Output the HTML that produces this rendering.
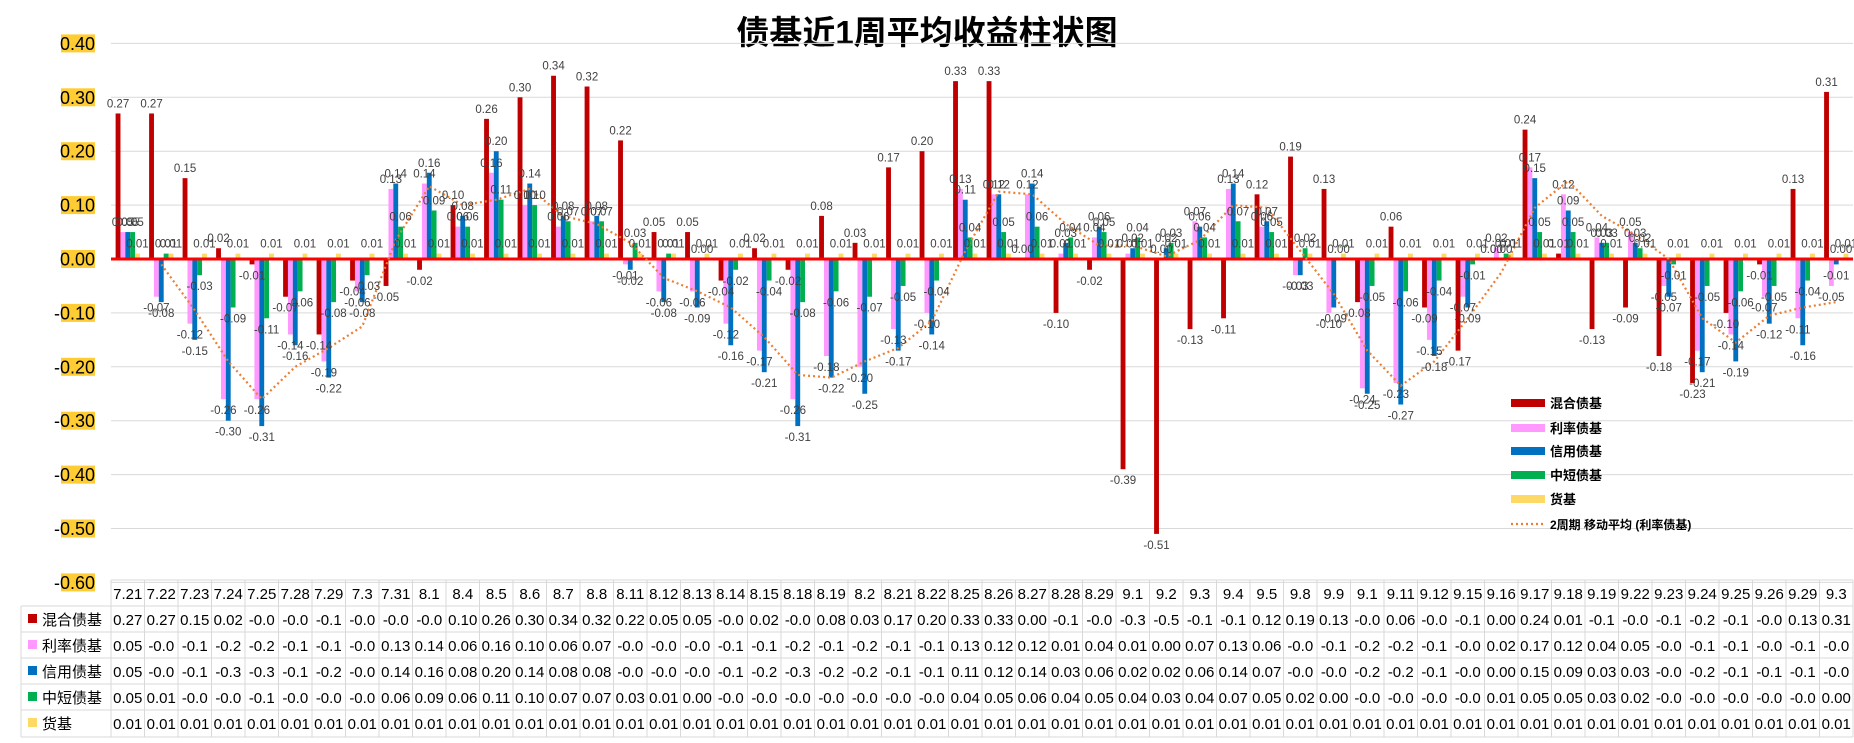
<!DOCTYPE html>
<html><head><meta charset="utf-8">
<style>
html,body{margin:0;padding:0;background:#fff;}
#wrap{position:relative;width:1854px;height:743px;overflow:hidden;font-family:"Liberation Sans","Noto Sans CJK SC",sans-serif;}
svg text{font-family:"Liberation Sans","Noto Sans CJK SC",sans-serif;}
</style></head>
<body>
<div id="wrap">
<svg id="chart" width="1854" height="743">
<text x="927" y="44" text-anchor="middle" font-size="33" font-weight="bold" fill="#000">债基近1周平均收益柱状图</text>
</svg>
</div>
<script>
const categories=["7.21","7.22","7.23","7.24","7.25","7.28","7.29","7.3","7.31","8.1","8.4","8.5","8.6","8.7","8.8","8.11","8.12","8.13","8.14","8.15","8.18","8.19","8.2","8.21","8.22","8.25","8.26","8.27","8.28","8.29","9.1","9.2","9.3","9.4","9.5","9.8","9.9","9.1","9.11","9.12","9.15","9.16","9.17","9.18","9.19","9.22","9.23","9.24","9.25","9.26","9.29","9.3"];
const seriesNames=["混合债基","利率债基","信用债基","中短债基","货基"];
const mixed=[0.27,0.27,0.15,0.02,-0.01,-0.07,-0.14,-0.04,-0.05,-0.02,0.10,0.26,0.30,0.34,0.32,0.22,0.05,0.05,-0.04,0.02,-0.02,0.08,0.03,0.17,0.20,0.33,0.33,0.00,-0.10,-0.02,-0.39,-0.51,-0.13,-0.11,0.12,0.19,0.13,-0.08,0.06,-0.09,-0.17,0.00,0.24,0.01,-0.13,-0.09,-0.18,-0.23,-0.10,-0.01,0.13,0.31];
const rate=[0.05,-0.07,-0.12,-0.26,-0.26,-0.14,-0.19,-0.06,0.13,0.14,0.06,0.16,0.10,0.06,0.07,-0.01,-0.06,-0.06,-0.12,-0.17,-0.26,-0.18,-0.20,-0.13,-0.10,0.13,0.12,0.12,0.01,0.04,0.01,0.00,0.07,0.13,0.06,-0.03,-0.10,-0.24,-0.23,-0.15,-0.07,0.02,0.17,0.12,0.04,0.05,-0.05,-0.17,-0.14,-0.07,-0.11,-0.05];
const credit=[0.05,-0.08,-0.15,-0.30,-0.31,-0.16,-0.22,-0.08,0.14,0.16,0.08,0.20,0.14,0.08,0.08,-0.02,-0.08,-0.09,-0.16,-0.21,-0.31,-0.22,-0.25,-0.17,-0.14,0.11,0.12,0.14,0.03,0.06,0.02,0.02,0.06,0.14,0.07,-0.03,-0.09,-0.25,-0.27,-0.18,-0.09,0.00,0.15,0.09,0.03,0.03,-0.07,-0.21,-0.19,-0.12,-0.16,-0.01];
const shortTerm=[0.05,0.01,-0.03,-0.09,-0.11,-0.06,-0.08,-0.03,0.06,0.09,0.06,0.11,0.10,0.07,0.07,0.03,0.01,0.00,-0.02,-0.04,-0.08,-0.06,-0.07,-0.05,-0.04,0.04,0.05,0.06,0.04,0.05,0.04,0.03,0.04,0.07,0.05,0.02,0.00,-0.05,-0.06,-0.04,-0.01,0.01,0.05,0.05,0.03,0.02,-0.01,-0.05,-0.06,-0.05,-0.04,0.00];
const money=[0.01,0.01,0.01,0.01,0.01,0.01,0.01,0.01,0.01,0.01,0.01,0.01,0.01,0.01,0.01,0.01,0.01,0.01,0.01,0.01,0.01,0.01,0.01,0.01,0.01,0.01,0.01,0.01,0.01,0.01,0.01,0.01,0.01,0.01,0.01,0.01,0.01,0.01,0.01,0.01,0.01,0.01,0.01,0.01,0.01,0.01,0.01,0.01,0.01,0.01,0.01,0.01];
const yTicks=[0.4,0.3,0.2,0.1,0,-0.1,-0.2,-0.3,-0.4,-0.5,-0.6];
const yTickLabels=["0.40","0.30","0.20","0.10","0.00","-0.10","-0.20","-0.30","-0.40","-0.50","-0.60"];

const NS="http://www.w3.org/2000/svg";
const svg=document.getElementById('chart');
const colors=["#C00000","#FF99FF","#0070C0","#00B050","#FFD966"];
const allSeries=[mixed,rate,credit,shortTerm,money];
const X0=111,X1=1853,Y0=259,PER=539; // px per 1.0
const cw=(X1-X0)/categories.length;
const bw=cw*0.145;
function y(v){return Y0-v*PER;}
function xCat(i){return X0+i*cw;}
function mk(tag,attrs){const e=document.createElementNS(NS,tag);for(const k in attrs)e.setAttribute(k,attrs[k]);svg.appendChild(e);return e;}

// gridlines and y labels
yTicks.forEach((t,i)=>{
  const g=mk('line',{x1:X0,x2:X1,y1:y(t),y2:y(t),stroke:'#d9d9d9','stroke-width':1});
  
  
  const r=mk('rect',{x:61,y:y(t)-9,width:34,height:18,fill:'#FFCC33'});
  
  
  const tx=mk('text',{x:95,y:y(t)+6.5,'text-anchor':'end','font-size':18,fill:'#000'});
  tx.textContent=yTickLabels[i];
  
  
});

// bars
const off=(cw-5*bw)/2;
allSeries.forEach((s,si)=>{
  s.forEach((v,i)=>{
    const bx=xCat(i)+off+si*bw;
    const top=Math.min(y(v),Y0),h=Math.abs(y(v)-Y0);
    const b=mk('rect',{x:bx,y:top,width:bw,height:Math.max(h,0.01),fill:colors[si]});
    
    
  });
});
// zero line
const z=mk('line',{x1:X0,x2:X1,y1:Y0,y2:Y0,stroke:'#FF0000','stroke-width':3});



// moving average line (2-period of rate)
let pts=[];
for(let i=1;i<rate.length;i++){pts.push((xCat(i)+cw/2).toFixed(1)+','+y((rate[i-1]+rate[i])/2).toFixed(1));}
const ma=mk('polyline',{points:pts.join(' '),fill:'none',stroke:'#ED7D31','stroke-width':2.2,'stroke-dasharray':'2 3'});



// value labels
allSeries.forEach((s,si)=>{
  s.forEach((v,i)=>{
    const bx=xCat(i)+off+si*bw+bw/2;
    const ly=v>=0?y(v)-6:y(v)+15;
    const t=mk('text',{x:bx,y:ly,'text-anchor':'middle','font-size':11.5,fill:'#404040'});
    t.textContent=v.toFixed(2);
    
    
  });
});

// legend
const legendY=[403,428,451,475,499];
seriesNames.forEach((n,i)=>{
  const r=mk('rect',{x:1511,y:legendY[i]-4,width:34,height:8,fill:colors[i]});
  
  
  const t=mk('text',{x:1550,y:legendY[i]+5,'font-size':13,'font-weight':'bold',fill:'#000'});
  t.textContent=n;
  
  
});
const lm=mk('line',{x1:1511,x2:1545,y1:524,y2:524,stroke:'#ED7D31','stroke-width':2.2,'stroke-dasharray':'2 3'});


const lmt=mk('text',{x:1550,y:529,'font-size':12,'font-weight':'bold',fill:'#000'});
lmt.textContent='2周期 移动平均 (利率债基)';



// data table
const rowY=[580,606,632,658,684,710,737];
const TL=21;
for(let i=0;i<=categories.length;i++){
  const l=mk('line',{x1:xCat(i),x2:xCat(i),y1:rowY[0],y2:rowY[6],stroke:'#d9d9d9','stroke-width':1});
  
  
}
const l0=mk('line',{x1:TL,x2:TL,y1:rowY[1],y2:rowY[6],stroke:'#d9d9d9','stroke-width':1});


rowY.forEach((ry,ri)=>{
  const l=mk('line',{x1:ri===0?X0:TL,x2:X1,y1:ry,y2:ry,stroke:'#d9d9d9','stroke-width':1});
  
  
});
categories.forEach((c,i)=>{
  const t=mk('text',{x:xCat(i)+cw/2,y:rowY[0]+19,'text-anchor':'middle','font-size':15,fill:'#000'});
  t.textContent=c;
  
  
});
allSeries.forEach((s,si)=>{
  const ry=rowY[si+1];
  const sq=mk('rect',{x:28,y:ry+8,width:9,height:9,fill:colors[si]});
  
  
  const nm=mk('text',{x:42,y:ry+19,'font-size':15,fill:'#000'});
  nm.textContent=seriesNames[si];
  
  
  s.forEach((v,i)=>{
    const t=mk('text',{x:xCat(i)+cw/2,y:ry+19,'text-anchor':'middle','font-size':15,fill:'#000'});
    t.textContent=v.toFixed(2).slice(0,4);
    
    
  });
});
</script>
</body></html>
